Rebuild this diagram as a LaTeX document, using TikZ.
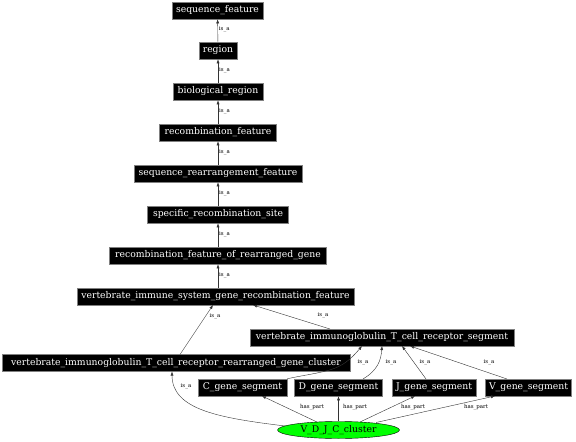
\documentclass[tikz,border=0pt]{standalone}
\usepackage{fontspec}
\setmainfont{DejaVu Serif}
\usetikzlibrary{arrows.meta,shapes.geometric}
\begin{document}
\begin{tikzpicture}[x=1bp,y=-1bp,
  term/.style={fill=black,draw=gray,line width=0.6bp,text=white,font=\fontsize{9.3}{10}\selectfont,inner sep=0pt,minimum height=17bp,anchor=center},
  ell/.style={ellipse,fill=green,draw=black,line width=0.4bp,inner sep=0pt,minimum width=122bp,minimum height=17bp,font=\fontsize{9.3}{10}\selectfont},
  rel/.style={draw=black!80,line width=0.4bp,-{Latex[length=4bp,width=3bp]}},
  lab/.style={font=\fontsize{5.5}{6}\selectfont,inner sep=0pt}]
\useasboundingbox (0,0) rectangle (576,442);
\node[term,minimum width=91bp] (sf) at (217.5,10.5) {sequence\_feature};
\node[term,minimum width=38bp] (rg) at (218,50.5) {region};
\node[term,minimum width=90bp] (br) at (218,91.5) {biological\_region};
\node[term,minimum width=117bp] (rf) at (218,132.5) {recombination\_feature};
\node[term,minimum width=168bp] (srf) at (218,173.5) {sequence\_rearrangement\_feature};
\node[term,minimum width=141bp] (srs) at (218,214.5) {specific\_recombination\_site};
\node[term,minimum width=217bp] (rfrg) at (218,255.5) {recombination\_feature\_of\_rearranged\_gene};
\node[term,minimum width=277bp] (vis) at (215.5,296.5) {vertebrate\_immune\_system\_gene\_recombination\_feature};
\node[term,minimum width=264bp] (seg) at (382,337.5) {vertebrate\_immunoglobulin\_T\_cell\_receptor\_segment};
\node[term,minimum width=348bp] (rgc) at (176,363) {vertebrate\_immunoglobulin\_T\_cell\_receptor\_rearranged\_gene\_cluster};
\node[term,minimum width=89bp] (C) at (242.5,387.5) {C\_gene\_segment};
\node[term,minimum width=88bp] (D) at (338.5,387.5) {D\_gene\_segment};
\node[term,minimum width=84bp] (J) at (434,387.5) {J\_gene\_segment};
\node[term,minimum width=86bp] (V) at (528.5,387.5) {V\_gene\_segment};
\node[ell] (vdjc) at (338.5,430) {V\_D\_J\_C\_cluster};
% is_a chain
\draw[rel] (rg) -- (sf) node[lab,midway,right=1bp,yshift=1bp] {is\_a};
\draw[rel] (br) -- (rg) node[lab,midway,right=1bp,yshift=1bp] {is\_a};
\draw[rel] (rf) -- (br) node[lab,midway,right=1bp,yshift=1bp] {is\_a};
\draw[rel] (srf) -- (rf) node[lab,midway,right=1bp,yshift=1bp] {is\_a};
\draw[rel] (srs) -- (srf) node[lab,midway,right=1bp,yshift=1bp] {is\_a};
\draw[rel] (rfrg) -- (srs) node[lab,midway,right=1bp,yshift=1bp] {is\_a};
\draw[rel] (vis.north -| rfrg) -- (rfrg) node[lab,midway,right=1bp,yshift=1bp] {is\_a};
\coordinate (rgcTop) at (180,354.5);
\coordinate (visB1) at (213,305);
\draw[rel] (rgcTop) -- (visB1);
\node[lab] (l1) at (215,316) {is\_a};
\coordinate (segTop) at (330,329);
\coordinate (visB2) at (253,305);
\draw[rel] (segTop) -- (visB2);
\node[lab] (l2) at (323,315.5) {is\_a};
% cluster to rearranged gene cluster
\coordinate (vdjcL) at (285,426);
\coordinate (rgcB) at (172,371.5);
\draw[rel] (vdjcL) .. controls (220,418) and (172,410) .. (rgcB);
\node[lab] (l3) at (186,386) {is\_a};
% segments to segment
\coordinate (segB1) at (362,346);
\coordinate (segB2) at (382,346);
\coordinate (segB3) at (402,346);
\coordinate (segB4) at (410,346);
\draw[rel] (C.north east) .. controls (330,370) and (340,372) .. (segB1);
\draw[rel] (363,379) .. controls (378,370) and (381,360) .. (segB2);
\draw[rel] (426,379) -- (segB3);
\draw[rel] (507,379) -- (segB4);
\node[lab] (l4) at (363,362) {is\_a};
\node[lab] (l5) at (391,362) {is\_a};
\node[lab] (l6) at (425,362) {is\_a};
\node[lab] (l7) at (489,362) {is\_a};
% has_part
\draw[rel] (318,422.5) -- (262,396);
\draw[rel] (vdjc.north) -- (D.south);
\draw[rel] (360,422) -- (415,396);
\draw[rel] (376,422.5) -- (495,396);
\node[lab] (h1) at (312,407.5) {has\_part};
\node[lab] (h2) at (355,407.5) {has\_part};
\node[lab] (h3) at (413,407.5) {has\_part};
\node[lab] (h4) at (476,407.5) {has\_part};
\end{tikzpicture}
\end{document}
